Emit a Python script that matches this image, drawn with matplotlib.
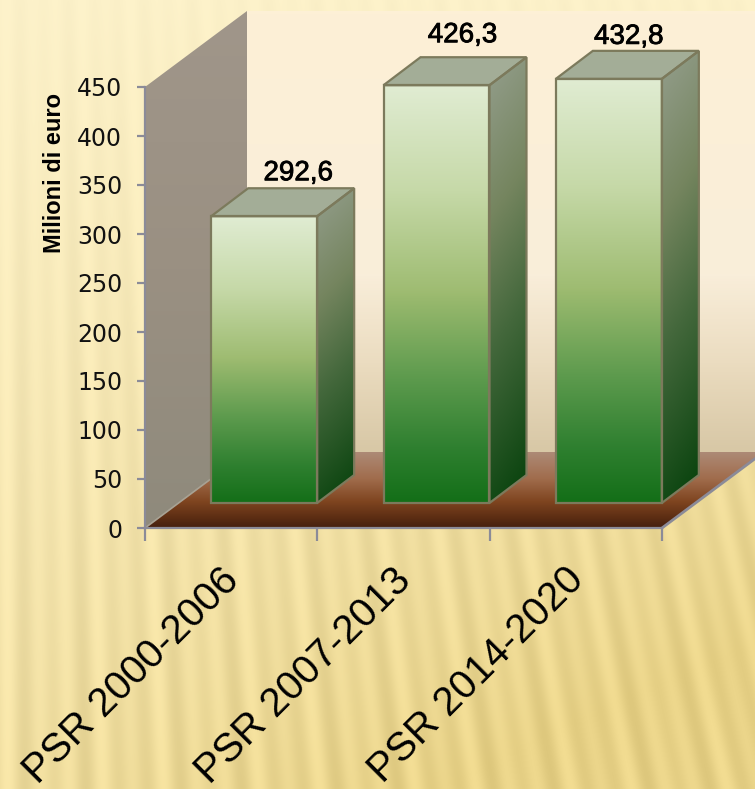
import numpy as np
import matplotlib
matplotlib.use("Agg")
import matplotlib.pyplot as plt
import matplotlib.patheffects as pe
from matplotlib.colors import LinearSegmentedColormap
from matplotlib.patches import Polygon

CATEGORIES = ["PSR 2000-2006", "PSR 2007-2013", "PSR 2014-2020"]
VALUES = [292.6, 426.3, 432.8]
VALUE_LABELS = ["292,6", "426,3", "432,8"]
Y_TICKS = [0, 50, 100, 150, 200, 250, 300, 350, 400, 450]

W, H = 755, 789
LEFT, RIGHT, TOP, BOTTOM = 145, 662, 87, 528
PX_X = (RIGHT - LEFT) / 3
PX_Y = (BOTTOM - TOP) / 450

FLOOR_DX, FLOOR_DY = 102, 76
BAR_DX, BAR_DY = 37, 28
BAR_W = 106
BAR_SHIFT_X, BAR_SHIFT_Y = 33, 25
# label offsets from the bar's front top centre, in pixels
LABEL_OFF = [(34, 43), (26, 50), (20, 42)]

GREY = "#8b8b98"
EDGE = "#7c7a5c"

front_cm = LinearSegmentedColormap.from_list(
    "front", [(0, "#e0ecd2"), (0.25, "#c6d9a8"), (0.5, "#9dbb70"), (0.7, "#5e9b4e"), (0.87, "#2f8030"), (1, "#146f18")])
side_cm = LinearSegmentedColormap.from_list(
    "side", [(0, "#8f9a85"), (0.3, "#75855f"), (0.6, "#44683c"), (1, "#0c4510")])
wall_cm = LinearSegmentedColormap.from_list(
    "wall", [(0, "#fdf0d6"), (0.6, "#f9eeda"), (0.8, "#ebdcc0"), (1, "#d8c8a6")])
floor_cm = LinearSegmentedColormap.from_list(
    "floor", [(0, "#ad8a76"), (0.35, "#a06c4c"), (0.65, "#7f4520"), (0.85, "#5f2f14"), (1, "#45200e")])
side_wall_cm = LinearSegmentedColormap.from_list("sidewall", ["#a0968a", "#9a9082", "#8f8a7c"])


def to_data(px, py):
    # pixel offsets to data units
    return px / PX_X, py / PX_Y


def shaded(ax, pts, cmap, diagonal=0.0):
    xs, ys = zip(*pts)
    x0, x1, y0, y1 = min(xs), max(xs), min(ys), max(ys)
    yy, xx = np.mgrid[0:1:128j, 0:1:64j]
    grad = np.clip(yy + diagonal * (xx - 0.5), 0, 1)
    im = ax.imshow(grad, cmap=cmap, vmin=0, vmax=1, extent=(x0, x1, y0, y1),
                   origin="upper", aspect="auto", interpolation="bilinear", zorder=2)
    poly = Polygon(pts, closed=True, transform=ax.transData)
    im.set_clip_box(ax.figure.bbox)
    im.set_clip_path(poly)
    return im


def outline(ax, pts, color=EDGE, lw=1.6, zorder=2):
    ax.add_patch(Polygon(pts, closed=True, fill=False, edgecolor=color, linewidth=lw,
                         zorder=zorder, clip_on=False, joinstyle="miter"))


fig = plt.figure(figsize=(W / 100, H / 100), dpi=100)

# striped slide background
bg = fig.add_axes([0, 0, 1, 1], zorder=0)
bg.axis("off")
yy, xx = np.mgrid[0:H, 0:W]
t = yy / H
u = xx / W
phase = xx - 0.22 * u * (yy - 0.5 * H)
stripes = 0.65 * np.sin(phase / 4.4) + 0.35 * np.sin(phase / 7.3 + 1.0)
top_c = np.array([252, 241, 201]) / 255
bot_c = np.array([232, 210, 135]) / 255
mix = np.clip(0.5 * t + 0.6 * t * u + 0.15 * t * t, 0, 1)[..., None]
amp = (0.008 + 0.036 * t)[..., None]
img = top_c + (bot_c - top_c) * mix + amp * stripes[..., None]
bg.imshow(np.clip(img, 0, 1), aspect="auto", interpolation="bilinear")

ax = fig.add_axes([LEFT / W, 1 - BOTTOM / H, (RIGHT - LEFT) / W, (BOTTOM - TOP) / H], zorder=1)
ax.patch.set_alpha(0)
ax.set_xlim(0, 3)
ax.set_ylim(0, 450)

fdx, fdy = to_data(FLOOR_DX, FLOOR_DY)
bdx, bdy = to_data(BAR_DX, BAR_DY)
sdx, sdy = to_data(BAR_SHIFT_X, BAR_SHIFT_Y)
bw = BAR_W / PX_X

# back wall, side wall and floor
shaded(ax, [(fdx, fdy), (fdx + 3.2, fdy), (fdx + 3.2, 450 + fdy), (fdx, 450 + fdy)], wall_cm)
shaded(ax, [(0, 0), (fdx, fdy), (fdx, 450 + fdy), (0, 450)], side_wall_cm)
shaded(ax, [(0, 0), (3, 0), (3 + fdx, fdy), (fdx, fdy)], floor_cm)
ax.plot([0, fdx], [0, fdy], color="#a8a294", lw=1.2, zorder=2, clip_on=False)
ax.plot([3, 3 + fdx], [0, fdy], color=GREY, lw=2, zorder=2, clip_on=False)

for i, (val, lab) in enumerate(zip(VALUES, VALUE_LABELS)):
    x0 = i + 0.5 - bw / 2 + sdx
    x1 = x0 + bw
    y0 = sdy
    y1 = sdy + val
    front = [(x0, y0), (x1, y0), (x1, y1), (x0, y1)]
    side = [(x1, y0), (x1 + bdx, y0 + bdy), (x1 + bdx, y1 + bdy), (x1, y1)]
    top = [(x0, y1), (x1, y1), (x1 + bdx, y1 + bdy), (x0 + bdx, y1 + bdy)]
    shaded(ax, front, front_cm)
    shaded(ax, side, side_cm, diagonal=0.12)
    ax.add_patch(Polygon(top, closed=True, facecolor="#a3ad97", edgecolor="none", zorder=2, clip_on=False))
    for pts in (front, side, top):
        outline(ax, pts)
    ox, oy = LABEL_OFF[i]
    ax.annotate(lab, xy=((x0 + x1) / 2, y1), xytext=(ox * 0.72, oy * 0.72), textcoords="offset points",
                ha="center", va="center", fontsize=20, family="Liberation Sans", color="black",
                path_effects=[pe.withStroke(linewidth=0.6, foreground="black")],
                zorder=5, annotation_clip=False)

ax.set_xlim(0, 3)
ax.set_ylim(0, 450)

for name in ("top", "right"):
    ax.spines[name].set_visible(False)
for name in ("left", "bottom"):
    ax.spines[name].set_color(GREY)
    ax.spines[name].set_linewidth(1.6)
    ax.spines[name].set_zorder(4)

ax.set_yticks(Y_TICKS)
ax.set_xticks([0, 1, 2, 3])
ax.set_xticklabels([])
ax.tick_params(axis="y", length=6, width=1.6, color=GREY, labelsize=17, labelcolor="#111111", pad=10.5)
ax.tick_params(axis="x", length=9, width=1.6, color=GREY)

for i, cat in enumerate(CATEGORIES):
    ax.annotate(cat, xy=(i + 0.5, 0), xytext=(-8.5, -23.5), textcoords="offset points",
                rotation=45, rotation_mode="anchor", ha="right", va="top", fontsize=29,
                family="Liberation Sans", color="black", annotation_clip=False)

ax.annotate("Milioni di euro", xy=(0, 450), xytext=(-65, -4), textcoords="offset points",
            rotation=90, ha="center", va="top", fontsize=17, fontweight="bold",
            family="Liberation Sans", color="black", annotation_clip=False)

fig.savefig("out.png", dpi=100)
